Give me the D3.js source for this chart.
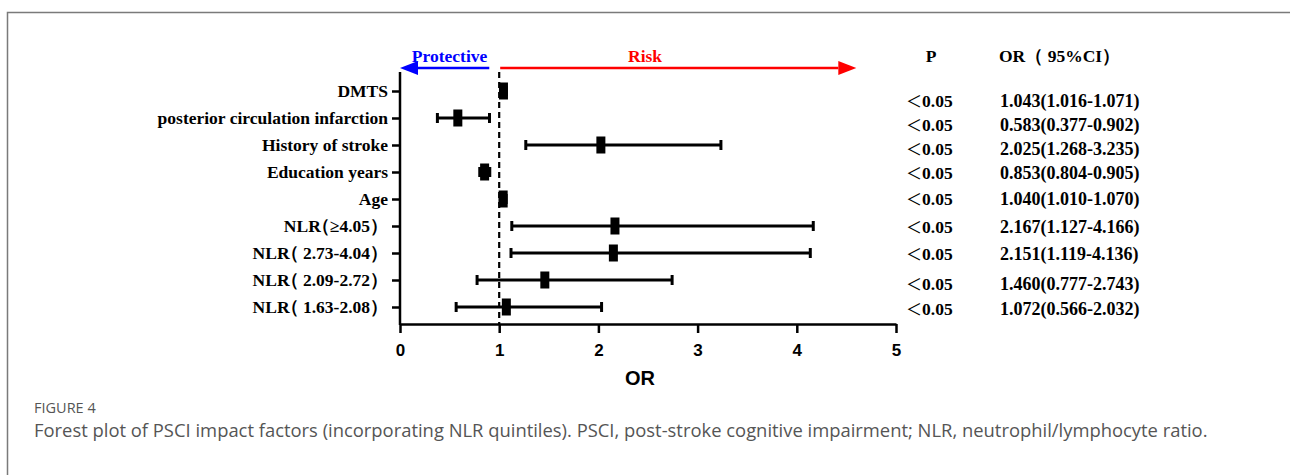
<!DOCTYPE html>
<html>
<head>
<meta charset="utf-8">
<script src="https://cdn.jsdelivr.net/npm/d3@7"></script>
<style>
  body { margin: 0; background: #fff; }
</style>
</head>
<body>
<div id="chart"></div>
<script>
// forest plot data, top row first
const factors = ["DMTS", "posterior circulation infarction", "History of stroke", "Education years", "Age",
                 "NLR（≥4.05）", "NLR（ 2.73-4.04）", "NLR（ 2.09-2.72）", "NLR（ 1.63-2.08）"];
const orValues = [1.043, 0.583, 2.025, 0.853, 1.040, 2.167, 2.151, 1.460, 1.072];
const ciLow    = [1.016, 0.377, 1.268, 0.804, 1.010, 1.127, 1.119, 0.777, 0.566];
const ciHigh   = [1.071, 0.902, 3.235, 0.905, 1.070, 4.166, 4.136, 2.743, 2.032];
const pLabels  = ["＜0.05", "＜0.05", "＜0.05", "＜0.05", "＜0.05", "＜0.05", "＜0.05", "＜0.05", "＜0.05"];
const orLabels = ["1.043(1.016-1.071)", "0.583(0.377-0.902)", "2.025(1.268-3.235)", "0.853(0.804-0.905)",
                  "1.040(1.010-1.070)", "2.167(1.127-4.166)", "2.151(1.119-4.136)", "1.460(0.777-2.743)",
                  "1.072(0.566-2.032)"];
const xTicks = [0, 1, 2, 3, 4, 5];

// the table column in the original sits a little off the rows
const tableNudge = [10, 7, 4, 1, 0, 1, 1, 4, 2];

var width = 1290, height = 475;
var serif = "'Liberation Serif', 'Times New Roman', serif";
var sans = "'Liberation Sans', Arial, sans-serif";
var cjk = "'Noto Sans CJK SC', sans-serif";

var svg = d3.select("#chart").append("svg")
    .attr("width", width)
    .attr("height", height);

// page frame
svg.append("path")
    .attr("d", "M7.5," + height + "V12.5H" + width)
    .attr("fill", "none")
    .attr("stroke", "#7a7a7a")
    .attr("stroke-width", 1.5);

var x = d3.scaleLinear().domain([0, 5]).range([400, 896]);
var y = d3.scalePoint().domain(factors).range([91, 307]);
var axisTop = 72, axisBottom = 324;

// x axis
var xAxis = svg.append("g")
    .attr("transform", "translate(0," + axisBottom + ")")
    .call(d3.axisBottom(x).tickValues(xTicks).tickSize(9).tickSizeOuter(0).tickPadding(11).tickFormat(d3.format("d")));
xAxis.select(".domain").attr("stroke-width", 2.5);
xAxis.selectAll(".tick line").attr("stroke-width", 2.5);
xAxis.selectAll("text")
    .style("font-family", sans)
    .style("font-weight", "bold")
    .style("font-size", "17px")
    .attr("fill", "#000");

svg.append("text")
    .attr("x", 640)
    .attr("y", 385)
    .attr("text-anchor", "middle")
    .style("font-family", sans)
    .style("font-weight", "bold")
    .style("font-size", "20px")
    .text("OR");

// y axis
var yAxis = svg.append("g")
    .attr("transform", "translate(" + x(0) + ",0)")
    .call(d3.axisLeft(y).tickSize(8).tickPadding(4));
yAxis.select(".domain").remove();
yAxis.selectAll(".tick line").attr("stroke-width", 2.5);
yAxis.selectAll("text")
    .style("font-family", serif)
    .style("font-weight", "bold")
    .style("font-size", "17.5px")
    .attr("fill", "#000");

// pull the full-width bracket up against "NLR" like in the original (per-glyph dx)
yAxis.selectAll("text").each(function() {
    var t = d3.select(this), s = t.text(), k = s.indexOf("（");
    if (k < 0) return;
    var shifts = Array.from(s, (c, j) => j === k ? -9 : 0);
    t.attr("dx", shifts.join(" "));
});

svg.append("line")
    .attr("x1", x(0)).attr("x2", x(0))
    .attr("y1", axisTop).attr("y2", axisBottom + 1)
    .attr("stroke", "#000")
    .attr("stroke-width", 2.5);

// no-effect line
svg.append("line")
    .attr("x1", x(1)).attr("x2", x(1))
    .attr("y1", axisTop).attr("y2", axisBottom)
    .attr("stroke", "#000")
    .attr("stroke-width", 2.2)
    .attr("stroke-dasharray", "6,4");

// direction arrows
function arrow(from, to, color) {
    var ay = 68, dir = to > from ? 1 : -1, headLen = 18, headHalf = 7;
    svg.append("line")
        .attr("x1", from).attr("x2", to - dir * headLen)
        .attr("y1", ay).attr("y2", ay)
        .attr("stroke", color)
        .attr("stroke-width", 2.5);
    svg.append("path")
        .attr("d", "M" + to + "," + ay + "L" + (to - dir * headLen) + "," + (ay - headHalf) +
                   "L" + (to - dir * headLen) + "," + (ay + headHalf) + "Z")
        .attr("fill", color);
}
arrow(x(0.9), x(0), "#0000ff");
arrow(x(1.01), x(4.6), "#ff0000");

svg.append("text")
    .attr("x", x(0.5)).attr("y", 62)
    .attr("text-anchor", "middle")
    .attr("fill", "#0000ff")
    .style("font-family", serif).style("font-weight", "bold").style("font-size", "17.5px")
    .text("Protective");
svg.append("text")
    .attr("x", x(2.47)).attr("y", 62)
    .attr("text-anchor", "middle")
    .attr("fill", "#ff0000")
    .style("font-family", serif).style("font-weight", "bold").style("font-size", "17.5px")
    .text("Risk");

// error bars and point estimates
var rows = svg.append("g").selectAll("g")
    .data(factors)
    .enter().append("g");

rows.append("line")
    .attr("x1", (d, i) => x(ciLow[i]))
    .attr("x2", (d, i) => x(ciHigh[i]))
    .attr("y1", d => y(d)).attr("y2", d => y(d))
    .attr("stroke", "#000").attr("stroke-width", 3);

rows.append("line")
    .attr("x1", (d, i) => x(ciLow[i])).attr("x2", (d, i) => x(ciLow[i]))
    .attr("y1", d => y(d) - 5).attr("y2", d => y(d) + 5)
    .attr("stroke", "#000").attr("stroke-width", 3);

rows.append("line")
    .attr("x1", (d, i) => x(ciHigh[i])).attr("x2", (d, i) => x(ciHigh[i]))
    .attr("y1", d => y(d) - 5).attr("y2", d => y(d) + 5)
    .attr("stroke", "#000").attr("stroke-width", 3);

rows.append("rect")
    .attr("x", (d, i) => x(orValues[i]) - 4.5)
    .attr("y", d => y(d) - 8.5)
    .attr("width", 9)
    .attr("height", 17)
    .attr("fill", "#000");

// table on the right
svg.append("text")
    .attr("x", 931).attr("y", 62)
    .attr("text-anchor", "middle")
    .style("font-family", serif).style("font-weight", "bold").style("font-size", "17.5px")
    .text("P");
svg.append("text")
    .attr("x", 999).attr("y", 62)
    .style("font-family", serif).style("font-weight", "bold").style("font-size", "17.5px")
    .text("OR（ 95%CI）");

var pText = svg.append("g").selectAll("text")
    .data(pLabels)
    .enter().append("text")
    .attr("x", 906)
    .attr("y", (d, i) => y(factors[i]) + tableNudge[i])
    .attr("dy", "0.35em")
    .style("font-family", serif).style("font-weight", "bold").style("font-size", "17.5px");
// the full-width "<" comes from the CJK font, the number from the serif one
pText.append("tspan")
    .style("font-family", cjk).style("font-weight", "normal").style("font-size", "16px")
    .text(d => d.charAt(0));
pText.append("tspan")
    .text(d => d.slice(1));

svg.append("g").selectAll("text")
    .data(orLabels)
    .enter().append("text")
    .attr("x", 1000)
    .attr("y", (d, i) => y(factors[i]) + tableNudge[i])
    .attr("dy", "0.35em")
    .style("font-family", serif).style("font-weight", "bold").style("font-size", "18px")
    .text(d => d);

// caption
svg.append("text")
    .attr("x", 34).attr("y", 413)
    .attr("fill", "#555")
    .style("font-family", "'Open Sans', sans-serif").style("font-size", "14.5px")
    .text("FIGURE 4");
svg.append("text")
    .attr("x", 34).attr("y", 437)
    .attr("fill", "#555")
    .style("font-family", "'Open Sans', sans-serif").style("font-size", "18.4px")
    .text("Forest plot of PSCI impact factors (incorporating NLR quintiles). PSCI, post-stroke cognitive impairment; NLR, neutrophil/lymphocyte ratio.");
</script>
</body>
</html>
